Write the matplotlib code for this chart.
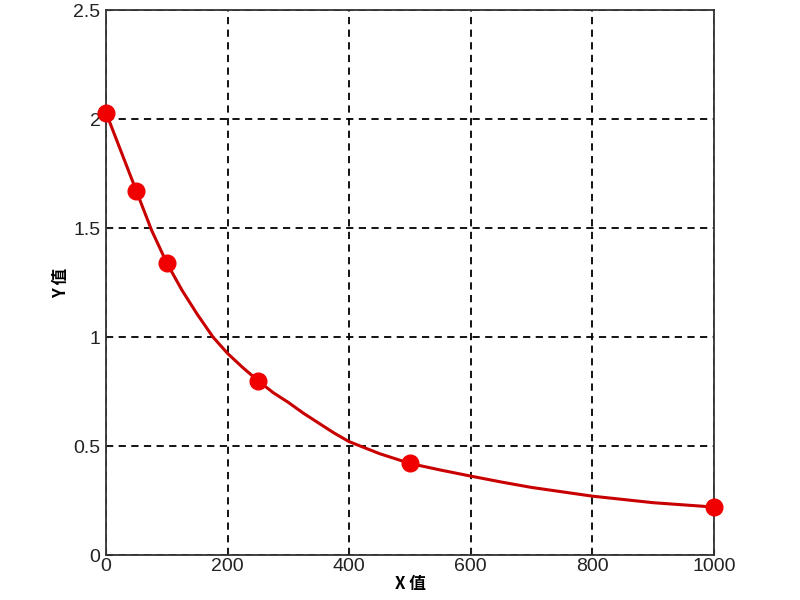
import matplotlib
matplotlib.use("Agg")
import matplotlib.pyplot as plt

plt.rcParams['font.family'] = ['Liberation Sans', 'Noto Sans CJK SC', 'DejaVu Sans']

# measured points
x_pts = [0, 50, 100, 250, 500, 1000]
y_pts = [2.03, 1.67, 1.34, 0.80, 0.42, 0.22]

# fitted curve
x_curve = [0, 25, 50, 75, 100, 125, 150, 176, 200, 225, 250, 275, 300, 325, 350, 375,
           400, 450, 500, 550, 600, 650, 700, 750, 800, 850, 900, 950, 1000]
y_curve = [2.03, 1.85, 1.67, 1.49, 1.34, 1.215, 1.105, 1.00, 0.925, 0.86, 0.80, 0.745, 0.70,
           0.65, 0.605, 0.56, 0.52, 0.465, 0.42, 0.39, 0.362, 0.335, 0.31, 0.29, 0.27,
           0.255, 0.24, 0.23, 0.22]

x_ticks = [0, 200, 400, 600, 800, 1000]
y_ticks = [0, 0.5, 1, 1.5, 2, 2.5]
y_ticklabels = ['0', '0.5', '1', '1.5', '2', '2.5']

fig = plt.figure(figsize=(8, 6), dpi=100)
ax = fig.add_axes([0.1325, 0.075, 0.76, 0.908])

ax.plot(x_curve, y_curve, color='#c80000', linewidth=2.2, zorder=3,
        solid_joinstyle='round', solid_capstyle='round')
ax.plot(x_pts, y_pts, 'o', color='#f00000', markersize=12, zorder=4, clip_on=False)

ax.set_xlim(0, 1000)
ax.set_ylim(0, 2.5)
ax.set_xticks(x_ticks)
ax.set_yticks(y_ticks)
ax.set_yticklabels(y_ticklabels)
ax.grid(True, color='black', linestyle=(0, (4, 3)), linewidth=1.3)
ax.tick_params(direction='in', length=4, labelsize=14, colors='#222222', pad=4)
ax.tick_params(axis='x', pad=2)
for s in ax.spines.values():
    s.set_color('#333333')
    s.set_linewidth(1.3)

ax.set_xlabel('X 值', fontsize=12, fontweight='bold', family=['Noto Sans CJK SC'], labelpad=0)
ax.set_ylabel('Y 值', fontsize=12, fontweight='bold', family=['Noto Sans CJK SC'], labelpad=2)

fig.savefig('out.png', dpi=100)
